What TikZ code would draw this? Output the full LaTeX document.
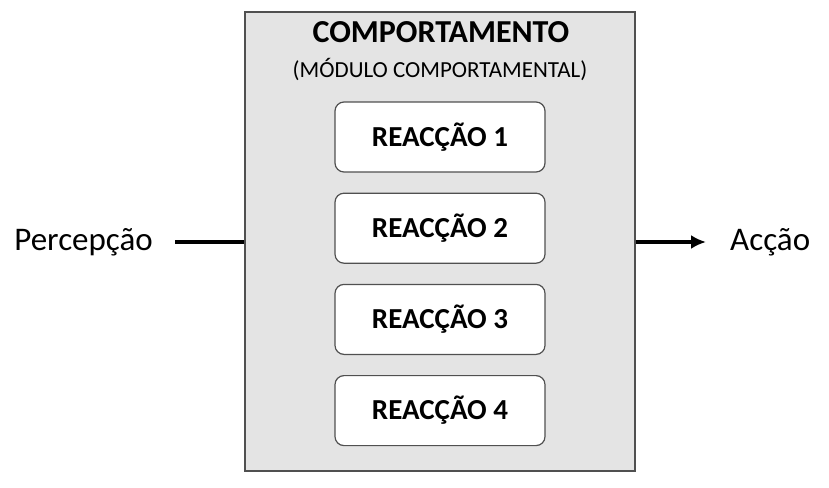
\documentclass[tikz,border=0pt]{standalone}
\usepackage{fontspec}
\setmainfont{Carlito}
\usetikzlibrary{positioning,arrows.meta}
\definecolor{boxgray}{HTML}{E4E4E4}
\definecolor{edgegray}{HTML}{505050}
\begin{document}
\begin{tikzpicture}[x=1pt,y=-1pt]
    \tikzstyle{module}=[rectangle,draw=edgegray,line width=1.5pt,fill=boxgray,minimum width=390pt,minimum height=459pt,inner sep=0pt]
    \tikzstyle{reaction}=[rectangle,rounded corners=9pt,draw=edgegray,line width=1.2pt,fill=white,minimum width=210pt,minimum height=70pt,font=\fontsize{29}{34}\selectfont\bfseries]
    \tikzstyle{io}=[font=\fontsize{33}{38}\selectfont,inner sep=0pt]
    \useasboundingbox (0,0) rectangle (829,487);

    % Modulo
    \node [module] (mod) at (440, 241.5) {};
    \node [font=\fontsize{32}{36}\selectfont\bfseries] (title) at (441, 32) {COMPORTAMENTO};
    \node [font=\fontsize{23}{27}\selectfont] (sub) at (440, 69) {(MÓDULO COMPORTAMENTAL)};

    % Reaccoes
    \node [reaction] (r1) at (440, 137) {REACÇÃO 1};
    \node [reaction, below=20pt of r1] (r2) {REACÇÃO 2};
    \node [reaction, below=20pt of r2] (r3) {REACÇÃO 3};
    \node [reaction, below=20pt of r3] (r4) {REACÇÃO 4};

    % Entrada e saida
    \node [io, anchor=east] (in) at (153, 242) {Percepção};
    \node [io, anchor=west] (out) at (730, 242) {Acção};
    \coordinate (inend) at (175, 242);
    \coordinate (outend) at (706, 242);
    \draw [line width=3.5pt] (inend) -- (inend -| mod.west);
    \draw [line width=3.5pt,-{Latex[length=15pt,width=14pt]}] (outend -| mod.east) -- (outend);
\end{tikzpicture}
\end{document}
